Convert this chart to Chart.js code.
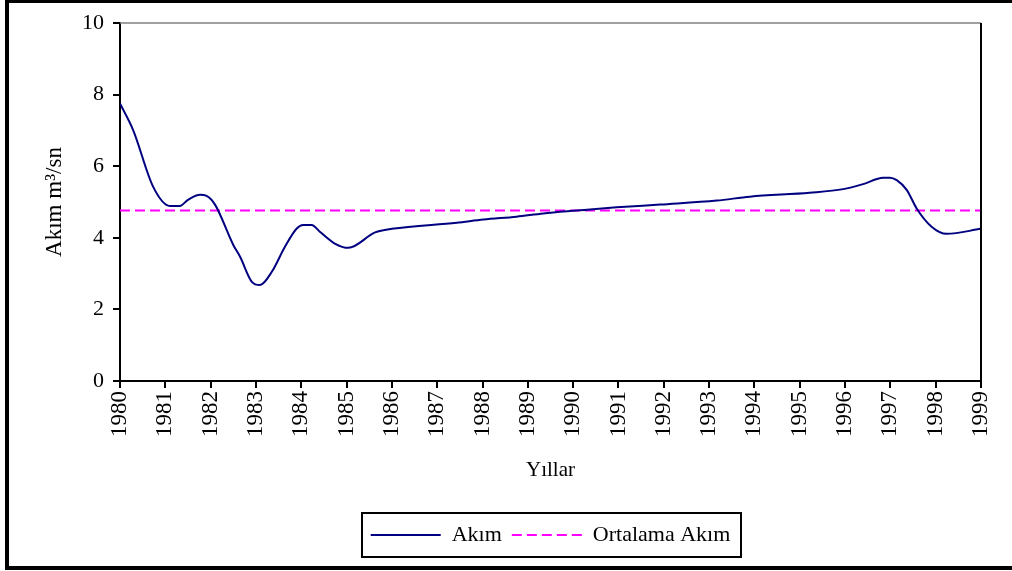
<!DOCTYPE html>
<html>
<head>
<meta charset="utf-8">
<script src="https://cdn.jsdelivr.net/npm/chart.js@4/dist/chart.umd.min.js"></script>
<style>
  html, body { margin: 0; padding: 0; background: #fff; }
  #wrap { position: relative; width: 1012px; height: 571px; overflow: hidden; }
  #c { position: absolute; left: 0; top: 0; }
  #frame {
    position: absolute; left: 5px; top: 0; width: 1010px; height: 563px;
    border-left: 4px solid #000; border-top: 3px solid #000; border-bottom: 4px solid #000;
    pointer-events: none;
  }
</style>
</head>
<body>
<div id="wrap">
  <canvas id="c" width="1012" height="571"></canvas>
  <div id="frame"></div>
</div>
<script>
// Flow series (m3/s) sampled at fractional years
const flowYears = [
  1980.00, 1980.29, 1980.73, 1981.10, 1981.32, 1981.50, 1981.77, 1981.91,
  1982.10, 1982.50, 1982.65, 1982.91, 1983.09, 1983.35, 1983.64, 1983.90,
  1984.04, 1984.23, 1984.41, 1984.74, 1985.04, 1985.63, 1986.00, 1987.43,
  1988.02, 1988.75, 1989.34, 1990.08, 1990.96, 1991.92, 1993.17, 1993.90,
  1995.22, 1995.96, 1996.40, 1996.84, 1996.99, 1997.14, 1997.36, 1997.58,
  1997.91, 1998.24, 1999.00
];
const flowValues = [
  7.75, 7.01, 5.43, 4.89, 4.89, 5.06, 5.20, 5.17,
  4.92, 3.80, 3.47, 2.77, 2.68, 3.05, 3.75, 4.26,
  4.36, 4.36, 4.17, 3.84, 3.72, 4.15, 4.25, 4.42,
  4.51, 4.59, 4.68, 4.76, 4.85, 4.93, 5.04, 5.15,
  5.26, 5.36, 5.50, 5.68, 5.68, 5.61, 5.34, 4.82,
  4.31, 4.11, 4.25
];
// Long-term mean flow
const meanYears = [1980, 1999];
const meanValues = [4.76, 4.76];

const yearLabels = ['1980','1981','1982','1983','1984','1985','1986','1987','1988','1989',
                    '1990','1991','1992','1993','1994','1995','1996','1997','1998','1999'];
const seriesNames = ['Akım', 'Ortalama Akım'];
const xTitle = 'Yıllar';
const yTitle = 'Akım m³/sn';

const FONT = 'Liberation Serif';

const toPoints = (xs, ys) => xs.map((x, i) => ({ x, y: ys[i] }));

// Keeps the legend centred under the plot area and draws its frame
const legendFrame = {
  id: 'legendFrame',
  afterLayout(chart) {
    const lg = chart.legend, ca = chart.chartArea;
    const shift = (ca.left + ca.right) / 2 - (lg.left + lg.right) / 2;
    lg.left += shift; lg.right += shift;
  },
  afterDraw(chart) {
    const hb = chart.legend.legendHitBoxes;
    if (!hb || !hb.length) return;
    const ctx = chart.ctx;
    const l = Math.min(...hb.map(h => h.left)) - 9;
    const r = Math.max(...hb.map(h => h.left + h.width)) + 10;
    const cy = hb[0].top + hb[0].height / 2;
    ctx.save();
    ctx.strokeStyle = '#000';
    ctx.lineWidth = 2;
    ctx.strokeRect(Math.round(l), Math.round(cy - 22), Math.round(r - l), 44);
    ctx.restore();
  }
};

// Plot-area outline: grey top edge, black right edge
const plotOutline = {
  id: 'plotOutline',
  afterDraw(chart) {
    const { ctx, chartArea: a } = chart;
    ctx.save();
    ctx.strokeStyle = '#808080';
    ctx.lineWidth = 1.5;
    ctx.beginPath(); ctx.moveTo(a.left, a.top); ctx.lineTo(a.right, a.top); ctx.stroke();
    ctx.strokeStyle = '#000';
    ctx.lineWidth = 2;
    ctx.beginPath(); ctx.moveTo(a.right, a.top); ctx.lineTo(a.right, a.bottom); ctx.stroke();
    ctx.restore();
  }
};

new Chart(document.getElementById('c'), {
  type: 'line',
  data: {
    datasets: [
      {
        label: seriesNames[0],
        data: toPoints(flowYears, flowValues),
        borderColor: '#000080',
        borderWidth: 2,
        pointRadius: 0,
        cubicInterpolationMode: 'monotone',
        fill: false
      },
      {
        label: seriesNames[1],
        data: toPoints(meanYears, meanValues),
        borderColor: '#ff00ff',
        borderWidth: 2,
        borderDash: [10, 5],
        pointRadius: 0,
        fill: false
      }
    ]
  },
  options: {
    responsive: false,
    animation: false,
    layout: { padding: { left: 0, top: 23, right: 31, bottom: 15 } },
    plugins: {
      tooltip: { enabled: false },
      legend: {
        position: 'bottom',
        labels: {
          color: '#000',
          font: { family: FONT, size: 22 },
          usePointStyle: true,
          pointStyle: 'line',
          pointStyleWidth: 70,
          padding: 10,
          generateLabels(chart) {
            const items = Chart.defaults.plugins.legend.labels.generateLabels(chart);
            return items.map(it => {
              const ds = chart.data.datasets[it.datasetIndex];
              return Object.assign(it, {
                lineDash: ds.borderDash || [],
                strokeStyle: ds.borderColor,
                lineWidth: ds.borderWidth
              });
            });
          }
        }
      }
    },
    scales: {
      x: {
        type: 'linear',
        min: 1980,
        max: 1999,
        afterFit(scale) { scale.height = 133; },
        border: { display: true, color: '#000', width: 2 },
        grid: { display: true, drawOnChartArea: false, drawTicks: true, tickLength: 7, color: '#000', lineWidth: 2 },
        ticks: {
          stepSize: 1,
          autoSkip: false,
          maxRotation: 90,
          minRotation: 90,
          padding: 3,
          color: '#000',
          font: { family: FONT, size: 23 },
          callback: (v) => yearLabels[Math.round(v) - 1980] ?? ''
        },
        title: {
          display: true,
          text: xTitle,
          color: '#000',
          font: { family: FONT, size: 21 },
          padding: { top: 0, bottom: 31 }
        }
      },
      y: {
        min: 0,
        max: 10,
        afterFit(scale) { scale.width = 120; },
        border: { display: true, color: '#000', width: 2 },
        grid: { display: true, drawOnChartArea: false, drawTicks: true, tickLength: 7, color: '#000', lineWidth: 2 },
        ticks: {
          stepSize: 2,
          padding: 9,
          color: '#000',
          font: { family: FONT, size: 22 }
        },
        title: {
          display: true,
          text: yTitle,
          color: '#000',
          font: { family: FONT, size: 23 },
          padding: { top: 41, bottom: 0 }
        }
      }
    }
  },
  plugins: [legendFrame, plotOutline]
});
</script>
</body>
</html>
